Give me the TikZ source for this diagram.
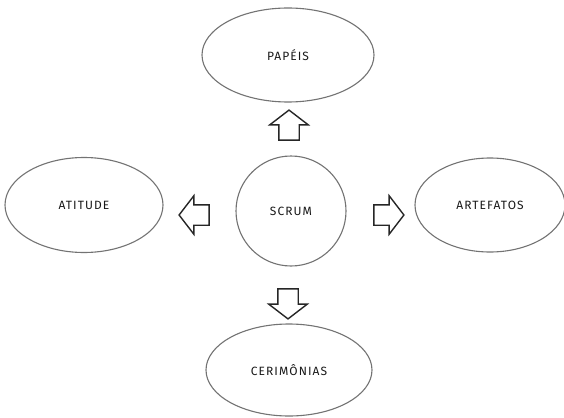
\documentclass[tikz,border=0pt]{standalone}
\usepackage{fontspec}
\setmainfont{Fira Sans}
\usetikzlibrary{shapes.geometric,shapes.arrows}
\tikzset{
  labelfont/.style={font=\fontsize{12}{14}\selectfont\addfontfeatures{LetterSpace=9}, text=black!90},
  topic/.style={ellipse, draw=black!55, line width=1.1pt, fill=white,
    minimum width=#1, labelfont},
  hub/.style={circle, draw=black!55, line width=1.1pt, minimum size=110pt, labelfont},
  blockarrow/.style={single arrow, draw=black!85, line width=1.4pt, fill=white,
    minimum height=30pt, inner xsep=0pt, inner ysep=9.5pt, text height=0pt, text depth=0pt,
    single arrow head extend=9pt, single arrow tip angle=105, rotate=#1},
}
\begin{document}
\begin{tikzpicture}[x=1pt,y=-1pt]
\useasboundingbox (0,0) rectangle (564,417);
% central topic
\node[hub] (scrum) at (291,211) {SCRUM};
% surrounding topics
\node[topic=172pt, minimum height=94pt] (papeis) at (288,55) {PAPÉIS};
\node[topic=158pt, minimum height=95pt] (atitude) at (84,205) {ATITUDE};
\node[topic=150pt, minimum height=94pt] (artefatos) at (490,205) {ARTEFATOS};
\node[topic=166pt, minimum height=92pt] (cerimonias) at (289,370) {CERIMÔNIAS};
% arrows pointing outwards
\node[blockarrow=90] (up) at (289,129) {};
\node[blockarrow=180] (left) at (198,215) {};
\node[blockarrow=0] (right) at (385,215) {};
\node[blockarrow=-90] (down) at (288,300) {};
\end{tikzpicture}
\end{document}
